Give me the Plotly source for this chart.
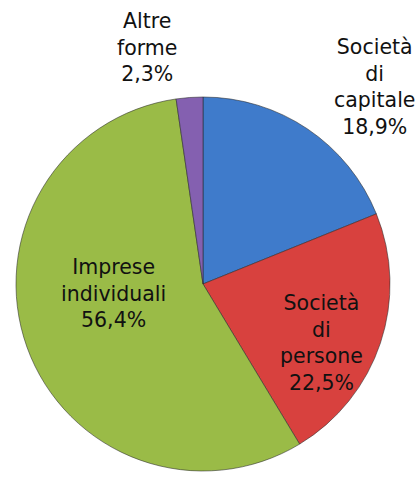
import plotly.graph_objects as go

labels = ["Società<br>di<br>capitale", "Società<br>di<br>persone", "Imprese<br>individuali", "Altre<br>forme"]
values = [18.9, 22.5, 56.4, 2.3]
value_text = ["18,9%", "22,5%", "56,4%", "2,3%"]
colors = ["#3F7BCB", "#D8413E", "#9ABB47", "#8460B0"]

# label block centres in pixels (x from left, y from top) - layout only
label_px = [(374, 87), (321, 343), (113, 293), (147, 47)]

W, H = 419, 478

fig = go.Figure(go.Pie(
    labels=labels,
    values=values,
    textinfo="none",
    sort=False,
    direction="clockwise",
    rotation=0,
    marker=dict(colors=colors, line=dict(color="rgba(40,40,40,0.55)", width=1)),
    showlegend=False,
    hoverinfo="skip",
    domain=dict(x=[16 / W, 390 / W], y=[4 / H, 384 / H]),
))

for lab, txt, (px, py) in zip(labels, value_text, label_px):
    fig.add_annotation(
        x=px / W, y=1 - py / H, xref="paper", yref="paper",
        text=f"{lab}<br>{txt}", showarrow=False,
        xanchor="center", yanchor="middle", align="center",
        font=dict(family="DejaVu Sans", size=20.5, color="#111111"),
    )

fig.update_layout(
    width=W, height=H,
    margin=dict(l=0, r=0, t=0, b=0),
    paper_bgcolor="white",
    plot_bgcolor="white",
)

fig.write_html("out.html", config={"displayModeBar": False},
               post_script="document.body.style.margin='0';")
